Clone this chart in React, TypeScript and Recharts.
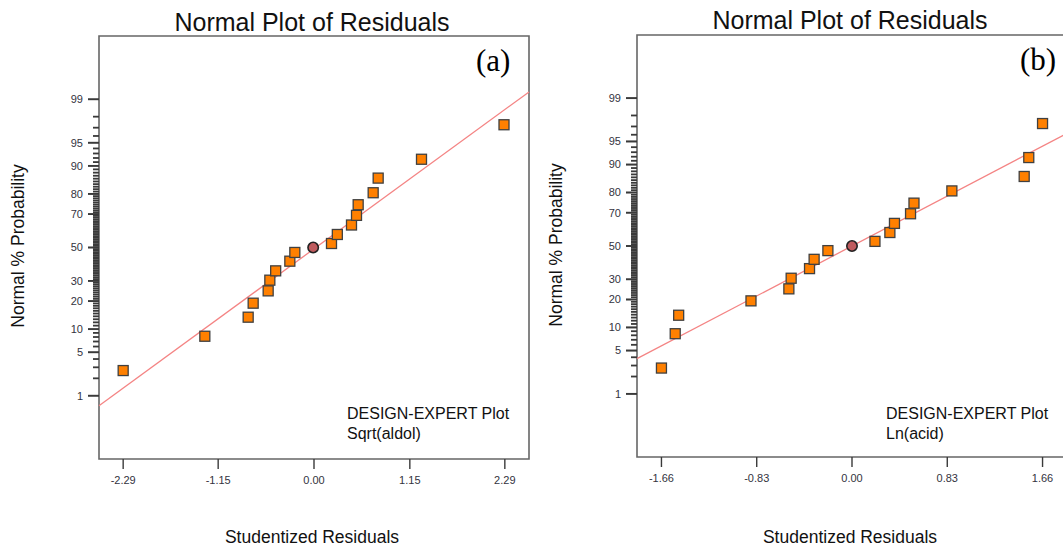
import { ReferenceArea, Scatter, ScatterChart, XAxis, YAxis } from "recharts";

// probability axis: labelled ticks and a minor tick at every whole percent
const yMajorTicks = [1, 5, 10, 20, 30, 50, 70, 80, 90, 95, 99];
const yMinorTicks = Array.from({ length: 99 }, (_, i) => i + 1);

// panel (a) Sqrt(aldol)
const xTicksA = [-2.29, -1.15, 0, 1.15, 2.29];
const residualsA = [-2.29, -1.31, -0.79, -0.73, -0.55, -0.53, -0.46, -0.29, -0.23, 0.21, 0.28, 0.45, 0.51, 0.53, 0.71, 0.77, 1.29, 2.28];
const probabilityA = [2.67, 8.18, 13.7, 19.1, 24.8, 30.4, 35.7, 41.5, 46.9, 52.5, 58.1, 63.8, 69.3, 74.9, 80.5, 86.2, 91.7, 97.3];
const centerResidualA = [-0.01];
const centerProbabilityA = [50];
const fitResidualA = [-2.58, 2.58];
const fitProbabilityA = [0.65, 99.27];

// panel (b) Ln(acid)
const xTicksB = [-1.66, -0.83, 0, 0.83, 1.66];
const residualsB = [-1.66, -1.54, -1.51, -0.88, -0.55, -0.53, -0.37, -0.33, -0.21, 0.2, 0.33, 0.37, 0.51, 0.54, 0.87, 1.5, 1.54, 1.66];
const probabilityB = [2.74, 8.38, 13.8, 19.4, 25.0, 30.6, 36.1, 41.7, 47.1, 52.9, 58.4, 63.9, 69.4, 75.0, 80.7, 86.3, 91.8, 97.3];
const centerResidualB = [0];
const centerProbabilityB = [50];
const fitResidualB = [-1.873, 1.873];
const fitProbabilityB = [3.81, 96.19];

const SANS = '"Liberation Sans", Arial, sans-serif';
const SERIF = '"Liberation Serif", "Times New Roman", serif';
const Z_LIMIT = 3.32;
const TICK_COLOR = "#3a3a3a";

// inverse normal cdf (Acklam)
function probit(p: number): number {
  const a = [-39.69683028665376, 220.9460984245205, -275.9285104469687, 138.357751867269, -30.66479806614716, 2.506628277459239];
  const b = [-54.47609879822406, 161.5858368580409, -155.6989798598866, 66.80131188771972, -13.28068155288572];
  const c = [-0.007784894002430293, -0.3223964580411365, -2.400758277161838, -2.549732539343734, 4.374664141464968, 2.938163982698783];
  const d = [0.007784695709041462, 0.3224671290700398, 2.445134137142996, 3.754408661907416];
  const low = 0.02425;
  if (p < low) {
    const q = Math.sqrt(-2 * Math.log(p));
    return (((((c[0] * q + c[1]) * q + c[2]) * q + c[3]) * q + c[4]) * q + c[5]) / ((((d[0] * q + d[1]) * q + d[2]) * q + d[3]) * q + 1);
  }
  if (p > 1 - low) {
    const q = Math.sqrt(-2 * Math.log(1 - p));
    return -(((((c[0] * q + c[1]) * q + c[2]) * q + c[3]) * q + c[4]) * q + c[5]) / ((((d[0] * q + d[1]) * q + d[2]) * q + d[3]) * q + 1);
  }
  const q = p - 0.5;
  const r = q * q;
  return ((((((a[0] * r + a[1]) * r + a[2]) * r + a[3]) * r + a[4]) * r + a[5]) * q) / (((((b[0] * r + b[1]) * r + b[2]) * r + b[3]) * r + b[4]) * r + 1);
}

const majorTickValues = yMajorTicks.map((p) => probit(p / 100));

function toPoints(xs: number[], ps: number[]) {
  return xs.map((x, i) => ({ x, z: probit(ps[i] / 100) }));
}

function percentLabel(z: number): string {
  let best = 0;
  let bestDist = Infinity;
  majorTickValues.forEach((v, i) => {
    const dist = Math.abs(v - z);
    if (dist < bestDist) {
      bestDist = dist;
      best = yMajorTicks[i];
    }
  });
  return String(best);
}

function SquareMarker(props: any) {
  const { cx, cy } = props;
  if (cx == null || cy == null) return null;
  return <rect x={cx - 5} y={cy - 5} width={10} height={10} fill="#ff8000" stroke="#404040" strokeWidth={1.3} />;
}

function CenterMarker(props: any) {
  const { cx, cy } = props;
  if (cx == null || cy == null) return null;
  return <circle cx={cx} cy={cy} r={5.2} fill="#bf5b5e" stroke="#222" strokeWidth={1.6} />;
}

// tick mark on the probability axis, drawn leftwards from the frame
function AxisTickMark(props: any) {
  const { cx, cy, payload } = props;
  if (cx == null || cy == null) return null;
  const len = payload?.major ? 11 : 6;
  return <rect x={cx - len} y={cy - 0.9} width={len} height={1.8} fill={TICK_COLOR} stroke="none" />;
}

function NoMarker() {
  return <g />;
}

type PanelProps = {
  left: number;
  yAxisWidth: number;
  top: number;
  xAxisHeight: number;
  right: number;
  xLimit: number;
  xTicks: number[];
  residuals: number[];
  probability: number[];
  centerResidual: number[];
  centerProbability: number[];
  fitResidual: number[];
  fitProbability: number[];
};

function ResidualPanel(p: PanelProps) {
  const points = toPoints(p.residuals, p.probability);
  const center = toPoints(p.centerResidual, p.centerProbability);
  const fit = toPoints(p.fitResidual, p.fitProbability);
  const tickMarks = yMinorTicks.map((pct) => ({
    x: -p.xLimit,
    z: probit(pct / 100),
    major: yMajorTicks.includes(pct),
  }));
  return (
    <div style={{ position: "absolute", left: p.left, top: 0 }}>
      <ScatterChart width={540} height={547} margin={{ top: p.top, right: p.right, bottom: 0, left: 0 }}>
        <XAxis
          type="number"
          dataKey="x"
          domain={[-p.xLimit, p.xLimit]}
          ticks={p.xTicks}
          interval={0}
          height={p.xAxisHeight}
          axisLine={false}
          tickSize={10}
          tickMargin={7}
          tickLine={{ stroke: TICK_COLOR, strokeWidth: 1.4 }}
          tick={{ fill: "#333340", fontSize: 11, fontFamily: SANS }}
          tickFormatter={(v: number) => v.toFixed(2)}
        />
        <YAxis
          type="number"
          dataKey="z"
          domain={[-Z_LIMIT, Z_LIMIT]}
          ticks={majorTickValues}
          interval={0}
          width={p.yAxisWidth}
          axisLine={false}
          tickSize={11}
          tickMargin={5}
          tickLine={{ stroke: TICK_COLOR, strokeWidth: 1.4 }}
          tick={{ fill: "#333340", fontSize: 11, fontFamily: SANS }}
          tickFormatter={percentLabel}
        />
        <ReferenceArea
          x1={-p.xLimit}
          x2={p.xLimit}
          y1={-Z_LIMIT}
          y2={Z_LIMIT}
          fill="none"
          stroke="#666"
          strokeWidth={1.6}
          ifOverflow="visible"
        />
        <Scatter data={tickMarks} shape={<AxisTickMark />} isAnimationActive={false} legendType="none" />
        <Scatter
          data={fit}
          line={{ stroke: "#f48484", strokeWidth: 1.3 }}
          shape={<NoMarker />}
          isAnimationActive={false}
          legendType="none"
        />
        <Scatter data={points} shape={<SquareMarker />} isAnimationActive={false} legendType="none" />
        <Scatter data={center} shape={<CenterMarker />} isAnimationActive={false} legendType="none" />
      </ScatterChart>
    </div>
  );
}

function Label(props: { x: number; y: number; size: number; text: string; rotate?: boolean }) {
  return (
    <div
      style={{
        position: "absolute",
        left: props.x,
        top: props.y,
        transform: `translate(-50%, -50%)${props.rotate ? " rotate(-90deg)" : ""}`,
        fontFamily: SANS,
        fontSize: props.size,
        lineHeight: 1,
        whiteSpace: "nowrap",
        color: "#111",
      }}
    >
      {props.text}
    </div>
  );
}

function PlotNote(props: { x: number; y: number; lines: string[] }) {
  return (
    <div
      style={{
        position: "absolute",
        left: props.x,
        top: props.y,
        fontFamily: SANS,
        fontSize: 16,
        lineHeight: "20px",
        whiteSpace: "nowrap",
        color: "#111",
      }}
    >
      {props.lines.map((l) => (
        <div key={l}>{l}</div>
      ))}
    </div>
  );
}

function PanelTag(props: { x: number; y: number; text: string }) {
  return (
    <div
      style={{
        position: "absolute",
        left: props.x,
        top: props.y,
        fontFamily: SERIF,
        fontSize: 31,
        lineHeight: 1,
        color: "#000",
      }}
    >
      {props.text}
    </div>
  );
}

export default function App() {
  return (
    <div
      style={{
        position: "fixed",
        left: 0,
        top: 0,
        width: 1063,
        height: 547,
        overflow: "hidden",
        background: "#fff",
      }}
    >
      <ResidualPanel
        left={0}
        yAxisWidth={99}
        top={36}
        xAxisHeight={88}
        right={11}
        xLimit={2.58}
        xTicks={xTicksA}
        residuals={residualsA}
        probability={probabilityA}
        centerResidual={centerResidualA}
        centerProbability={centerProbabilityA}
        fitResidual={fitResidualA}
        fitProbability={fitProbabilityA}
      />
      <ResidualPanel
        left={540}
        yAxisWidth={97}
        top={35}
        xAxisHeight={90}
        right={13}
        xLimit={1.873}
        xTicks={xTicksB}
        residuals={residualsB}
        probability={probabilityB}
        centerResidual={centerResidualB}
        centerProbability={centerProbabilityB}
        fitResidual={fitResidualB}
        fitProbability={fitProbabilityB}
      />

      <Label x={312} y={22} size={25} text="Normal Plot of Residuals" />
      <Label x={850} y={20} size={25} text="Normal Plot of Residuals" />
      <Label x={19} y={246} size={17.5} text="Normal % Probability" rotate />
      <Label x={557} y={245} size={17.5} text="Normal % Probability" rotate />
      <Label x={312} y={538} size={17.5} text="Studentized Residuals" />
      <Label x={850} y={538} size={17.5} text="Studentized Residuals" />

      <PanelTag x={476} y={45} text="(a)" />
      <PanelTag x={1020} y={44} text="(b)" />

      <PlotNote x={347} y={404} lines={["DESIGN-EXPERT Plot", "Sqrt(aldol)"]} />
      <PlotNote x={886} y={404} lines={["DESIGN-EXPERT Plot", "Ln(acid)"]} />
    </div>
  );
}
